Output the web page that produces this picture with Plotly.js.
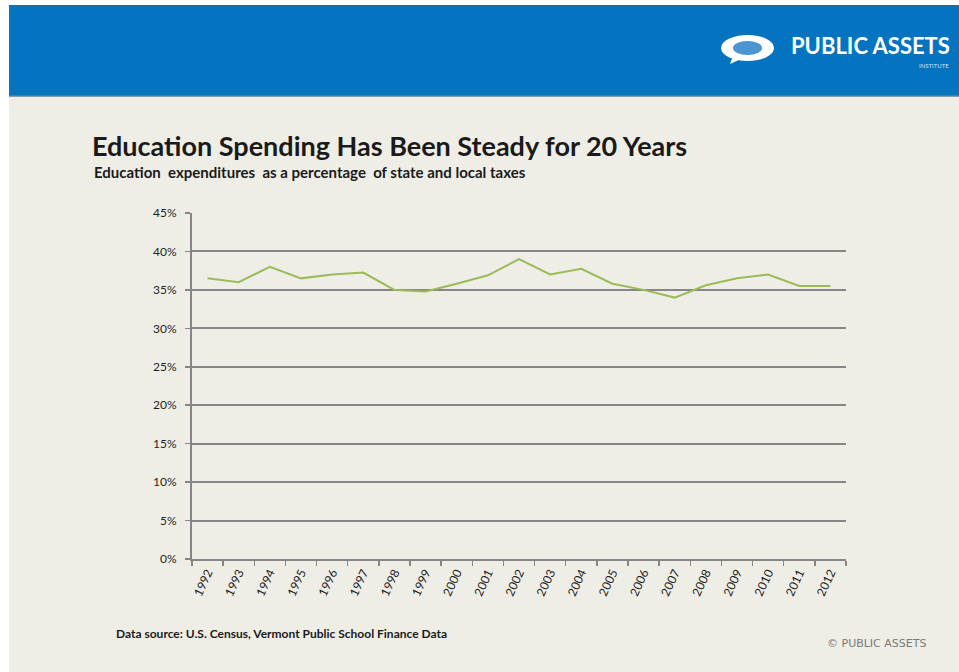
<!DOCTYPE html>
<html>
<head>
<meta charset="utf-8">
<script src="https://cdn.plot.ly/plotly-3.0.1.min.js"></script>
<style>html,body{margin:0;padding:0;background:#fff;}#chart{width:959px;height:672px;}</style>
</head>
<body>
<div id="chart"></div>
<script>
const years = ["1992","1993","1994","1995","1996","1997","1998","1999","2000","2001","2002","2003","2004","2005","2006","2007","2008","2009","2010","2011","2012"];
const eduShare = [36.5,36.0,38.0,36.5,37.0,37.25,35.0,34.8,35.8,36.9,39.0,37.0,37.75,35.8,35.0,34.0,35.6,36.5,37.0,35.5,35.5];
const yTicks = [0,5,10,15,20,25,30,35,40,45];
const yTickText = ["0%","5%","10%","15%","20%","25%","30%","35%","40%","45%"];

const W = 959, H = 672, L = 192, R = 846, T = 213, B = 559;
const px = x => (x - L) / (R - L);
const py = y => (B - y) / (B - T);
const BEIGE = "#efeee6";
const BLUE = "#0474c0";
const FONT = "Lato, 'Open Sans', sans-serif";

const trace = {
  x: years, y: eduShare, type: "scatter", mode: "lines",
  line: {color: "#9bbb59", width: 2},
  hoverinfo: "skip", showlegend: false
};

const shapes = [
  {type:"rect", xref:"paper", yref:"paper", x0:px(0), x1:px(9), y0:py(H), y1:py(0), fillcolor:"#ffffff", line:{width:0}, layer:"below"},
  {type:"rect", xref:"paper", yref:"paper", x0:px(0), x1:px(W), y0:py(5), y1:py(0), fillcolor:"#ffffff", line:{width:0}, layer:"below"},
  {type:"rect", xref:"paper", yref:"paper", x0:px(9), x1:px(W), y0:py(96), y1:py(5), fillcolor:BLUE, line:{width:0}, layer:"below"},
  {type:"line", xref:"paper", yref:"paper", x0:px(9), x1:px(W), y0:py(96), y1:py(96), line:{color:"#5a7fa8", width:1.5}, layer:"below"},
  {type:"circle", xref:"paper", yref:"paper", x0:px(721), x1:px(774), y0:py(61), y1:py(35), fillcolor:"#ffffff", line:{width:0}, layer:"above"},
  {type:"circle", xref:"paper", yref:"paper", x0:px(733), x1:px(762), y0:py(55), y1:py(41), fillcolor:"#4a95d2", line:{width:0}, layer:"above"},
  {type:"path", xref:"paper", yref:"paper", path:`M ${px(733)},${py(56)} L ${px(730)},${py(64)} L ${px(743)},${py(58)} Z`, fillcolor:"#ffffff", line:{width:0}, layer:"above"}
];

const annotations = [
  {text:"<b>Education Spending Has Been Steady for 20 Years</b>", xref:"paper", yref:"paper", x:px(90), y:py(146), xanchor:"left", yanchor:"middle", showarrow:false, font:{family:FONT, size:27, color:"#1a1a1a"}},
  {text:"<b>Education  expenditures  as a percentage  of state and local taxes</b>", xref:"paper", yref:"paper", x:px(92), y:py(172), xanchor:"left", yanchor:"middle", showarrow:false, font:{family:FONT, size:15, color:"#1a1a1a"}},
  {text:"<b>Data source: U.S. Census, Vermont Public School Finance Data</b>", xref:"paper", yref:"paper", x:px(114), y:py(633), xanchor:"left", yanchor:"middle", showarrow:false, font:{family:FONT, size:12, color:"#1a1a1a"}},
  {text:"© PUBLIC ASSETS", xref:"paper", yref:"paper", x:px(928), y:py(643), xanchor:"right", yanchor:"middle", showarrow:false, font:{family:"'DejaVu Sans', sans-serif", size:11, color:"#7a7a7a"}},
  {text:"<b>PUBLIC ASSETS</b>", xref:"paper", yref:"paper", x:px(952), y:py(45.5), xanchor:"right", yanchor:"middle", showarrow:false, font:{family:FONT, size:22, color:"#ffffff"}},
  {text:"INSTITUTE", xref:"paper", yref:"paper", x:px(951), y:py(65.5), xanchor:"right", yanchor:"middle", showarrow:false, font:{family:FONT, size:6, color:"#cfe3f3"}}
];

const layout = {
  width: W, height: H,
  margin: {l: L, r: W - R, t: T, b: H - B, pad: 0},
  paper_bgcolor: BEIGE, plot_bgcolor: BEIGE,
  font: {family: FONT, color: "#262626", size: 11},
  showlegend: false,
  xaxis: {
    type: "category", tickson: "boundaries", ticks: "outside", ticklen: 5, tickcolor: "#868686", tickwidth: 1.5,
    showline: true, linecolor: "#868686", linewidth: 2, showgrid: false, zeroline: false,
    tickangle: -65, tickfont: {family: FONT, size: 12, color: "#1f1f1f"}, range: [-0.5, 20.5], fixedrange: true
  },
  yaxis: {
    range: [0, 45], tickvals: yTicks, ticktext: yTickText, ticks: "outside", ticklen: 5, tickcolor: "#868686", tickwidth: 1.5,
    showline: true, linecolor: "#868686", linewidth: 2, showgrid: true, gridcolor: "#868686", gridwidth: 2,
    zeroline: false, tickfont: {family: FONT, size: 12, color: "#1f1f1f"}, ticklabelstandoff: 6, fixedrange: true
  },
  shapes: shapes,
  annotations: annotations
};

Plotly.newPlot("chart", [trace], layout, {displayModeBar: false, staticPlot: true});
</script>
</body>
</html>
